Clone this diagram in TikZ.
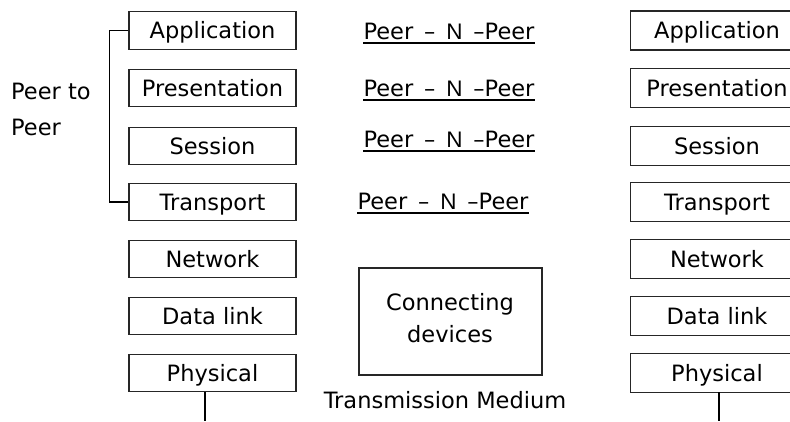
\documentclass[tikz,border=0pt]{standalone}
\usepackage{fontspec}
\setmainfont{DejaVu Sans}
\newfontfamily\nfont{Liberation Sans}
\begin{document}
\begin{tikzpicture}[x=1pt,y=-1pt,
  every node/.style={font=\fontsize{22.5}{26}\selectfont, text=black},
  layer/.style={draw=black!85, line width=1.3pt, minimum width=167pt,
    minimum height=37.5pt, inner sep=0pt, text height=16.4pt, text depth=0pt},
  rlayer/.style={layer, minimum width=172pt},
  rbox/.style={draw=black!85, line width=1.3pt},
  peer/.style={anchor=base, inner sep=0pt},
  uline/.style={line width=2.2pt, black},
  link/.style={line width=1.3pt, black}]
\useasboundingbox (0,0) rectangle (790,421);

% left protocol stack
\node[layer] (lapp) at (212.5,30.5) {Application};
\node[layer] (lpre) at (212.5,88)   {Presentation};
\node[layer] (lses) at (212.5,146)  {Session};
\node[layer] (ltra) at (212.5,202)  {Transport};
\node[layer] (lnet) at (212.5,259)  {Network};
\node[layer] (ldat) at (212.5,316)  {Data link};
\node[layer] (lphy) at (212.5,373)  {Physical};

% right protocol stack: its boxes run past the right edge of the page,
% so only their top, left and bottom sides are drawn
\foreach \n/\y/\t in {rapp/30.5/Application, rpre/88/Presentation,
    rses/146/Session, rtra/202/Transport, rnet/259/Network,
    rdat/316/Data link, rphy/373/Physical} {
  \node[layer, draw=none, minimum width=172pt] (\n) at (717,\y) {\t};
  \draw[rbox] (\n.north east) -- (\n.north west) -- (\n.south west) -- (\n.south east);
}

% bracket over the upper four layers
\node[anchor=base west, inner sep=0pt] (pt1) at (11,99) {Peer to};
\node[anchor=base west, inner sep=0pt] (pt2) at (11,135) {Peer};
\draw[link] (lapp.west) -- ++(-19,0) |- (ltra.west);

% peer-to-peer labels
\node[peer] (p1) at (449,39)  {Peer \,–\, {\nfont N} \,–Peer};
\node[peer] (p2) at (449,96)  {Peer \,–\, {\nfont N} \,–Peer};
\node[peer] (p3) at (449,147) {Peer \,–\, {\nfont N} \,–Peer};
\node[peer] (p4) at (443,209) {Peer \,–\, {\nfont N} \,–Peer};
\foreach \p in {p1,p2,p3,p4}
  \draw[uline] ([yshift=-4pt]\p.base west) -- ([yshift=-4pt]\p.base east);

% intermediate devices and medium
\node[draw=black!85, line width=1.3pt, minimum width=183pt, minimum height=107pt,
  inner sep=0pt] (dev) at (450.5,321.5) {};
\node[peer] (dev1) at (450,310) {Connecting};
\node[peer] (dev2) at (450,342) {devices};
\node[peer] (med) at (445,408) {Transmission Medium};

% links from the physical layers to the medium
\coordinate (lgnd) at (205,421);
\coordinate (rgnd) at (719,421);
\draw[link] (lgnd |- lphy.south) -- (lgnd);
\draw[link] (rgnd |- rphy.south) -- (rgnd);
\end{tikzpicture}
\end{document}
